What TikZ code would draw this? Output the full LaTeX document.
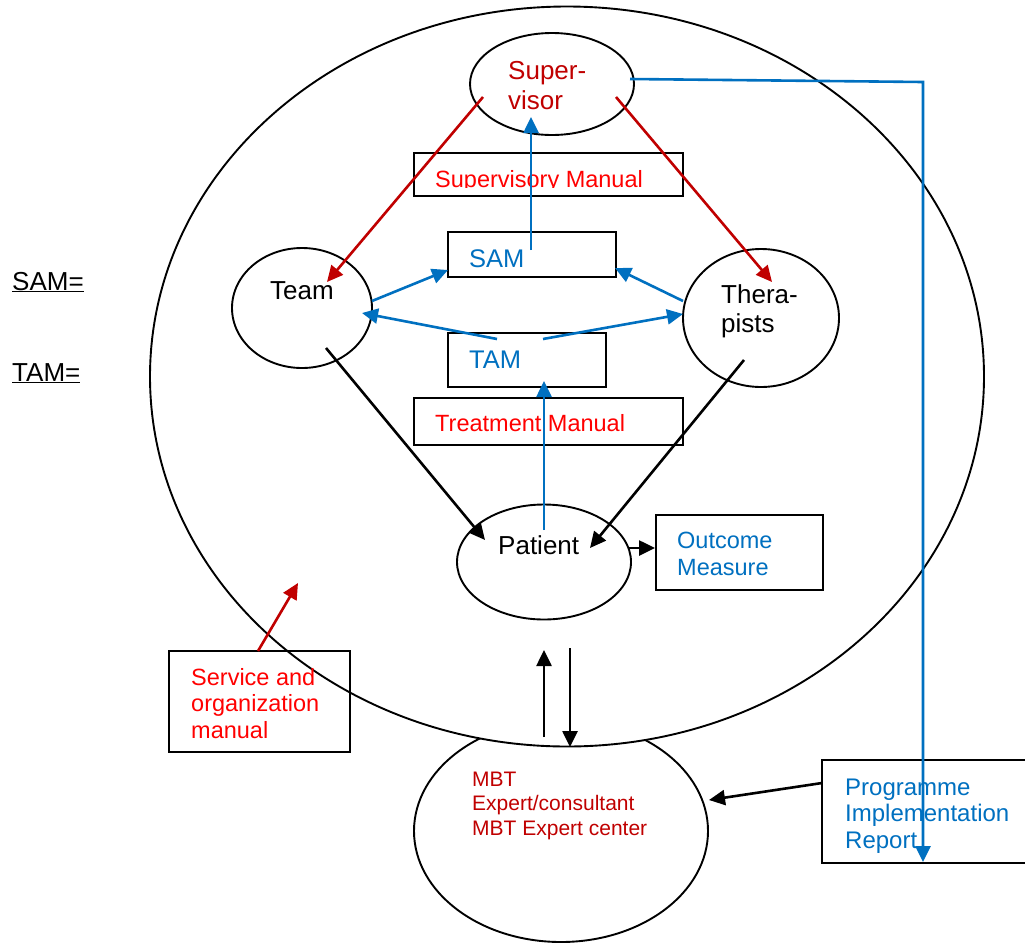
\documentclass[tikz,border=0pt]{standalone}
\usepackage{fontspec}
\setmainfont{Liberation Sans}
\usetikzlibrary{arrows.meta,calc,shapes.geometric}
\definecolor{dred}{HTML}{C00000}
\definecolor{bred}{HTML}{FF0000}
\definecolor{mblue}{HTML}{0070C0}
\newcommand{\mylines}[1]{\begin{tabular}[t]{@{}l@{}}#1\end{tabular}}
\begin{document}
\begin{tikzpicture}[x=1pt,y=-1pt,
  oval/.style={ellipse, draw=black, line width=1.9pt, inner sep=0pt},
  box/.style={draw=black, line width=2.2pt, inner sep=0pt},
  arr/.style={line width=2.6pt, -{Triangle[length=16pt,width=15pt]}},
  txt/.style={inner sep=0pt, anchor=base west},
  big26/.style={font=\fontsize{26}{30}\selectfont},
  mid24/.style={font=\fontsize{23.5}{26.5}\selectfont}
]
\useasboundingbox (0,0) rectangle (1025,943);

% MBT ellipse first, big ellipse filled white over it
\node[oval, minimum width=294pt, minimum height=222pt] (mbt) at (561,831) {};
\node[oval, fill=white, minimum width=834pt, minimum height=740pt] (big) at (567,376.5) {};

% inner ellipses
\node[oval, minimum width=164pt, minimum height=102pt] (sup) at (552,84) {};
\node[oval, minimum width=140pt, minimum height=120pt] (team) at (302,308) {};
\node[oval, minimum width=156pt, minimum height=138pt] (ther) at (761,318) {};
\node[oval, minimum width=174pt, minimum height=115pt] (pat) at (544,562) {};

% boxes
\begin{scope}
  \clip (414,150) rectangle (683,187);
  \node[txt, mid24, text=bred] (supmantxt) at (435,187) {Supervisory Manual};
\end{scope}
\node[box, minimum width=269pt, minimum height=43pt] (supman) at (548.5,174.5) {};
\node[box, minimum width=168pt, minimum height=45pt] (sam) at (532,254.5) {};
\node[box, minimum width=158pt, minimum height=54pt] (tam) at (527,360) {};
\node[box, minimum width=269pt, minimum height=47pt] (treat) at (548.5,421.5) {};
\node[box, minimum width=167pt, minimum height=75pt] (outc) at (739.5,552.5) {};
\node[box, minimum width=181pt, minimum height=101pt] (serv) at (259.5,701.5) {};
\node[box, minimum width=212pt, minimum height=103pt] (prog) at (928,811.5) {};

% texts
\node[txt, big26, text=dred] (suptxt) at (508,79) {\mylines{Super-\\visor}};
\node[txt, big26] (teamtxt) at (270,299) {Team};
\node[txt, font=\fontsize{26}{29}\selectfont] (thertxt) at (721,303) {\mylines{Thera-\\pists}};
\node[txt, big26] (pattxt) at (498,554) {Patient};
\node[txt, font=\fontsize{25.5}{30}\selectfont, text=mblue] (samtxt) at (469,267) {SAM};
\node[txt, font=\fontsize{25.5}{30}\selectfont, text=mblue] (tamtxt) at (469,368) {TAM};
\node[txt, mid24, text=bred] (treattxt) at (435,431) {Treatment Manual};
\node[txt, font=\fontsize{23.5}{27}\selectfont, text=mblue] (outctxt) at (677,548) {\mylines{Outcome\\Measure}};
\node[txt, mid24, text=bred] (servtxt) at (191,685) {\mylines{Service and\\organization\\manual}};
\node[txt, font=\fontsize{21}{24.5}\selectfont, text=dred] (mbttxt) at (472,786) {\mylines{MBT\\Expert/consultant\\MBT Expert center}};
\node[txt, font=\fontsize{24}{26.5}\selectfont, text=mblue] (progtxt) at (845,795) {\mylines{Programme\\Implementation\\Report}};
\node[txt, font=\fontsize{26}{28}\selectfont] (samdef) at (12,290) {\underline{SAM=}};
\node[txt, font=\fontsize{26}{28}\selectfont] (tamdef) at (12,381) {\underline{TAM=}};

% red arrows
\draw[arr, dred] ($(sup)+(-69,13)$) -- ($(team)+(25,-26)$);
\draw[arr, dred] ($(sup)+(64,13)$) -- ($(ther)+(11,-36)$);
\coordinate (servtip) at (298,583);
\draw[arr, dred] ($(serv)+(-1.5,-50.5)$) -- (servtip);

% blue arrows
\draw[arr, mblue] ($(sam)+(-1,-4.5)$) -- ($(sup)+(-21,33)$);
\draw[arr, mblue] ($(team)+(70,-7)$) -- ($(sam)+(-84,15.5)$);
\draw[arr, mblue] ($(ther)+(-78,-17)$) -- ($(sam)+(83,13.5)$);
\draw[arr, mblue] ($(tam)+(-30,-21)$) -- ($(team)+(60,5)$);
\draw[arr, mblue] ($(tam)+(16,-21)$) -- ($(ther)+(-78,-4)$);
\draw[arr, mblue] ($(pat)+(0,-32)$) -- ($(tam)+(17,21)$);
\draw[arr, mblue] ($(sup)+(78,-5)$) -- ($(prog)+(-5,-729.5)$) -- ($(prog)+(-5,50.5)$);

% black arrows
\draw[arr, black] ($(team)+(24,40)$) -- ($(pat)+(-59,-22)$);
\draw[arr, black] ($(ther)+(-17,42)$) -- ($(pat)+(46,-14)$);
\draw[arr, black] ($(pat)+(85,-14)$) -- ($(outc)+(-84.5,-4.5)$);
\draw[arr, black] ($(mbt)+(-17,-94)$) -- ($(big)+(-23,273.5)$);
\draw[arr, black] ($(big)+(3,271.5)$) -- ($(mbt)+(9,-84)$);
\draw[arr, black] ($(prog)+(-106,-28.5)$) -- ($(mbt)+(148,-31)$);
\end{tikzpicture}
\end{document}
